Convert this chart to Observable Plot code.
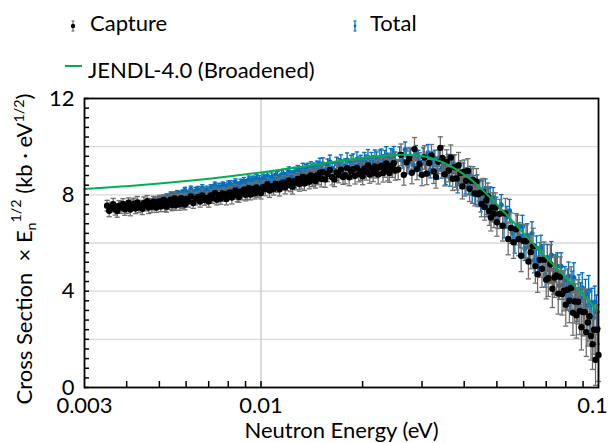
<!DOCTYPE html>
<html><head><meta charset="utf-8">
<script src="https://cdn.jsdelivr.net/npm/d3@7"></script>
<script src="https://cdn.jsdelivr.net/npm/@observablehq/plot@0.6"></script>
<style>
body{margin:0;background:#fff;}
#chart{width:609px;height:443px;overflow:hidden;}
</style></head><body>
<div id="chart"></div>
<script>
// ---- Capture (black points, grey error bars) ----
const captureE = [
0.00350,0.00355,0.00360,0.00365,0.00370,0.00375,0.00380,0.00385,0.00390,0.00395,
0.00400,0.00405,0.00410,0.00415,0.00420,0.00425,0.00430,0.00435,0.00440,0.00445,
0.00450,0.00455,0.00460,0.00465,0.00470,0.00475,0.00480,0.00485,0.00490,0.00495,
0.00500,0.00505,0.00510,0.00515,0.00520,0.00525,0.00530,0.00535,0.00540,0.00545,
0.00550,0.00555,0.00560,0.00565,0.00570,0.00575,0.00580,0.00585,0.00590,0.00595,0.00600,
0.0061,0.0062,0.0063,0.0064,0.0065,0.0066,0.0067,0.0068,0.0069,0.0070,
0.0071,0.0072,0.0073,0.0074,0.0075,0.0076,0.0077,0.0078,0.0079,0.0080,
0.0081,0.0082,0.0083,0.0084,0.0085,0.0086,0.0087,0.0088,0.0089,0.0090,
0.0091,0.0092,0.0093,0.0094,0.0095,0.0096,0.0097,0.0098,0.0099,0.0100,
0.01015,0.0103,0.01045,0.0106,0.01075,0.0109,0.01105,0.0112,0.01135,0.0115,
0.01165,0.0118,0.01195,0.0121,0.01225,0.0124,0.01255,0.0127,0.01285,0.0130,
0.01315,0.0133,0.01345,0.0136,0.01375,0.0139,0.01405,0.0142,0.01435,0.0145,
0.01465,0.0148,0.01495,0.0151,
0.01525,0.0155,0.01575,0.0160,0.01625,0.0165,0.01675,0.0170,0.01725,0.0175,
0.01775,0.0180,0.01825,0.0185,0.01875,0.0190,0.01925,0.0195,0.01975,0.0200,
0.02025,0.0205,0.02075,0.0210,0.02125,0.0215,0.02175,0.0220,0.02225,0.0225,
0.02275,0.0230,0.02325,0.0235,0.02375,0.0240,0.02425,0.0245,0.02475,0.0250,
0.0255,0.0260,0.0265,0.0270,0.0275,0.0280,0.0285,0.0290,0.0295,0.0300,
0.0305,0.0310,0.0315,0.0320,0.0325,0.0330,0.0335,0.0340,0.0345,0.0350,
0.0355,0.0360,0.0365,0.0370,0.0375,0.0380,0.0385,0.0390,0.0395,0.0400,
0.0405,0.0410,0.0415,0.0420,0.0425,0.0430,0.0435,0.0440,0.0445,0.0450,
0.0455,0.0460,0.0465,0.0470,0.0475,0.0480,0.0485,0.0490,0.0495,0.0500,
0.051,0.052,0.053,0.054,0.055,0.056,0.057,0.058,0.059,0.060,
0.061,0.062,0.063,0.064,0.065,0.066,0.067,0.068,0.069,0.070,
0.071,0.072,0.073,0.074,0.075,0.076,0.077,0.078,0.079,0.080,
0.081,0.082,0.083,0.084,0.085,0.086,0.087,0.088,0.089,0.090,
0.091,0.092,0.093,0.094,0.095,0.096,0.097,0.098,0.099,0.100];
const captureY = [
7.55,7.34,7.49,7.61,7.39,7.33,7.55,7.47,7.62,7.40,
7.46,7.67,7.39,7.57,7.62,7.43,7.68,7.49,7.57,7.42,
7.65,7.55,7.74,7.47,7.64,7.51,7.72,7.63,7.47,7.69,
7.73,7.52,7.67,7.79,7.57,7.51,7.73,7.65,7.80,7.58,
7.64,7.85,7.57,7.75,7.80,7.61,7.86,7.67,7.75,7.60,7.83,
7.72,7.93,7.66,7.84,7.91,7.72,7.97,7.79,7.87,7.73,
7.97,7.87,8.07,7.80,7.98,7.85,8.06,7.99,7.83,8.06,
8.10,7.89,8.05,8.18,7.97,7.91,8.13,8.06,8.21,8.00,
8.07,8.28,8.01,8.19,8.25,8.06,8.31,8.14,8.22,8.08,
8.33,8.24,8.44,8.18,8.36,8.24,8.46,8.38,8.23,8.46,
8.51,8.31,8.47,8.60,8.39,8.34,8.57,8.50,8.66,8.45,
8.52,8.74,8.47,8.66,8.72,8.54,8.80,8.62,8.71,8.57,
8.81,8.72,8.92,8.66,
8.94,8.64,8.86,9.03,8.73,8.64,8.93,8.83,9.04,8.74,
8.82,9.11,8.73,8.98,9.06,8.79,9.12,8.87,8.97,8.77,
9.09,8.95,9.22,8.84,9.09,8.90,9.18,9.07,8.84,9.16,
9.21,8.91,9.13,9.30,9.00,8.91,9.20,9.10,9.31,9.01,
9.05,9.66,8.83,9.35,9.51,8.92,9.90,9.07,9.28,8.83,
9.55,8.88,9.32,9.64,8.97,8.75,9.37,9.95,9.53,8.85,
9.37,9.01,9.55,8.67,9.15,8.68,9.23,8.91,8.35,8.96,
8.58,8.99,8.25,8.58,8.62,8.06,8.55,8.02,8.08,7.62,
8.11,7.49,7.76,7.94,7.32,7.06,7.48,7.21,7.47,6.86,
7.21,6.72,7.23,6.17,6.62,6.03,6.57,6.16,5.47,6.08,
6.07,5.23,5.62,5.87,5.04,4.70,5.30,4.93,5.30,4.47,
4.54,5.12,4.10,4.57,4.65,3.90,4.60,3.88,4.02,3.44,
4.06,3.60,4.13,3.10,3.57,3.00,3.56,3.17,2.50,3.13,
3.13,2.30,2.70,2.96,2.14,1.80,2.40,1.15,2.40,1.35];
const captureErr = [
0.22,0.25,0.20,0.24,0.23,0.26,0.21,0.24,0.22,0.25,
0.23,0.20,0.26,0.22,0.24,0.21,0.25,0.23,0.20,0.24,
0.26,0.22,0.23,0.25,0.21,0.24,0.22,0.26,0.20,0.23,
0.25,0.22,0.24,0.21,0.26,0.23,0.20,0.25,0.22,0.24,
0.23,0.26,0.21,0.24,0.22,0.25,0.20,0.23,0.26,0.22,0.24,
0.23,0.25,0.22,0.26,0.24,0.23,0.27,0.22,0.25,0.24,
0.26,0.23,0.25,0.22,0.27,0.24,0.23,0.26,0.25,0.22,
0.24,0.27,0.23,0.25,0.26,0.22,0.24,0.27,0.23,0.25,
0.26,0.24,0.22,0.27,0.25,0.23,0.26,0.24,0.27,0.25,
0.25,0.28,0.26,0.29,0.27,0.25,0.30,0.27,0.28,0.26,
0.29,0.27,0.30,0.28,0.26,0.31,0.28,0.29,0.27,0.30,
0.28,0.31,0.29,0.27,0.32,0.29,0.30,0.28,0.31,0.29,
0.32,0.30,0.28,0.33,
0.30,0.33,0.31,0.34,0.32,0.30,0.35,0.33,0.34,0.31,
0.36,0.33,0.35,0.32,0.37,0.34,0.36,0.33,0.38,0.35,
0.37,0.34,0.39,0.36,0.38,0.35,0.40,0.37,0.39,0.36,
0.41,0.38,0.40,0.37,0.42,0.39,0.41,0.38,0.43,0.40,
0.42,0.45,0.43,0.47,0.44,0.46,0.48,0.44,0.47,0.45,
0.49,0.46,0.48,0.45,0.50,0.47,0.49,0.46,0.51,0.48,
0.50,0.47,0.52,0.49,0.51,0.48,0.53,0.50,0.52,0.49,
0.54,0.51,0.53,0.50,0.55,0.52,0.54,0.51,0.56,0.53,
0.57,0.54,0.58,0.55,0.59,0.56,0.60,0.57,0.61,0.58,
0.60,0.64,0.62,0.66,0.63,0.67,0.65,0.69,0.66,0.70,
0.68,0.72,0.69,0.74,0.71,0.75,0.72,0.77,0.74,0.79,
0.76,0.81,0.78,0.83,0.80,0.85,0.82,0.87,0.84,0.89,
0.86,0.91,0.88,0.93,0.90,0.95,0.92,0.97,0.94,0.99,
0.96,1.01,0.98,1.03,1.00,1.05,1.02,1.06,1.04,1.10];

// ---- Total (blue points, blue error bars) ----
const totalE = [
0.00485,0.00490,0.00495,0.00500,0.00505,0.00510,0.00515,0.00520,0.00525,0.00530,
0.00535,0.00540,0.00545,0.00550,0.00555,0.00560,0.00565,0.00570,0.00575,0.00580,
0.00585,0.00590,0.00595,0.00600,
0.0061,0.0062,0.0063,0.0064,0.0065,0.0066,0.0067,0.0068,0.0069,0.0070,
0.0071,0.0072,0.0073,0.0074,0.0075,0.0076,0.0077,0.0078,0.0079,0.0080,
0.0081,0.0082,0.0083,0.0084,0.0085,0.0086,0.0087,0.0088,0.0089,0.0090,
0.0091,0.0092,0.0093,0.0094,0.0095,0.0096,0.0097,0.0098,0.0099,0.0100,
0.01015,0.0103,0.01045,0.0106,0.01075,0.0109,0.01105,0.0112,0.01135,0.0115,
0.01165,0.0118,0.01195,0.0121,0.01225,0.0124,0.01255,0.0127,0.01285,0.0130,
0.01315,0.0133,0.01345,0.0136,0.01375,0.0139,0.01405,0.0142,0.01435,0.0145,
0.01465,0.0148,0.01495,0.0151,
0.01525,0.0155,0.01575,0.0160,0.01625,0.0165,0.01675,0.0170,0.01725,0.0175,
0.01775,0.0180,0.01825,0.0185,0.01875,0.0190,0.01925,0.0195,0.01975,0.0200,
0.02025,0.0205,0.02075,0.0210,0.02125,0.0215,0.02175,0.0220,0.02225,0.0225,
0.02275,0.0230,0.02325,0.0235,0.02375,0.0240,0.02425,0.0245,0.02475,0.0250,
0.02575,0.02625,0.02675,0.02725,0.02775,0.02825,0.02875,0.02925,0.02975,0.03025,
0.03075,0.03125,0.03175,0.03225,0.03275,0.03325,0.03375,0.03425,0.03475,0.03525,
0.03575,0.03625,0.03675,0.03725,0.03775,0.03825,0.03875,0.03925,0.03975,0.04025,
0.04075,0.04125,0.04175,0.04225,0.04275,0.04325,0.04375,0.04425,0.04475,0.04525,
0.04575,0.04625,0.04675,0.04725,0.04775,0.04825,0.04875,0.04925,0.04975,0.05025,
0.0515,0.0525,0.0535,0.0545,0.0555,0.0565,0.0575,0.0585,0.0595,0.0605,
0.0615,0.0625,0.0635,0.0645,0.0655,0.0665,0.0675,0.0685,0.0695,0.0705,
0.0715,0.0725,0.0735,0.0745,0.0755,0.0765,0.0775,0.0785,0.0795,0.0805,
0.0815,0.0825,0.0835,0.0845,0.0855,0.0865,0.0875,0.0885,0.0895,0.0905,
0.0915,0.0925,0.0935,0.0945,0.0955,0.0965,0.0975,0.0985,0.0995];
const totalY = [
7.78,7.62,7.75,7.86,7.71,7.66,7.85,7.80,7.93,7.77,
7.83,8.00,7.80,7.95,8.00,7.86,8.06,7.93,8.01,7.90,
8.09,8.03,8.19,7.98,
8.06,8.23,8.03,8.17,8.22,8.08,8.28,8.14,8.22,8.11,
8.29,8.23,8.39,8.17,8.33,8.23,8.40,8.35,8.22,8.41,
8.45,8.28,8.41,8.52,8.36,8.31,8.50,8.44,8.57,8.41,
8.46,8.63,8.43,8.57,8.62,8.48,8.68,8.54,8.62,8.51,
8.69,8.63,8.79,8.58,8.73,8.64,8.82,8.76,8.64,8.83,
8.87,8.70,8.84,8.95,8.79,8.75,8.93,8.88,9.01,8.85,
8.91,9.08,8.88,9.02,9.08,8.94,9.14,9.01,9.08,8.98,
9.16,9.10,9.27,9.05,
9.29,9.04,9.23,9.37,9.10,9.03,9.29,9.21,9.38,9.13,
9.20,9.44,9.11,9.33,9.40,9.17,9.47,9.25,9.33,9.16,
9.44,9.31,9.55,9.23,9.43,9.27,9.52,9.42,9.23,9.50,
9.55,9.29,9.48,9.62,9.36,9.29,9.55,9.47,9.63,9.38,
9.69,9.43,9.88,9.21,9.61,9.26,9.73,9.51,9.09,9.60,
9.29,9.74,9.04,9.42,9.51,9.00,9.54,9.06,9.19,8.79,
9.32,8.74,9.05,9.27,8.69,8.47,8.91,8.66,8.94,8.35,
8.72,8.40,8.79,8.06,8.41,8.01,8.43,8.16,7.69,8.16,
7.81,8.23,7.50,7.85,7.91,7.37,7.88,7.37,7.47,7.05,
7.58,6.67,7.08,7.34,6.43,6.06,6.70,6.29,6.68,5.78,
6.32,5.81,6.39,5.28,5.79,5.19,5.81,5.39,4.69,5.39,
4.87,5.50,4.41,4.94,5.04,4.24,5.03,4.26,4.45,3.84,
4.63,3.77,4.24,4.56,3.70,3.38,4.07,3.71,4.14,3.28,
3.86,3.39,4.01,2.93,3.47,2.90,3.55,3.15,2.47];
const totalErr = [
0.10,0.12,0.11,0.10,0.12,0.11,0.10,0.12,0.11,0.13,
0.10,0.12,0.11,0.13,0.12,0.10,0.12,0.11,0.13,0.12,
0.11,0.13,0.12,0.11,
0.12,0.13,0.12,0.14,0.13,0.12,0.14,0.13,0.14,0.12,
0.13,0.15,0.14,0.13,0.15,0.14,0.13,0.15,0.14,0.16,
0.14,0.15,0.16,0.14,0.15,0.16,0.15,0.17,0.15,0.16,
0.17,0.15,0.16,0.17,0.16,0.18,0.16,0.17,0.18,0.17,
0.17,0.18,0.17,0.19,0.18,0.19,0.18,0.20,0.19,0.20,
0.19,0.21,0.20,0.21,0.20,0.22,0.21,0.22,0.21,0.23,
0.22,0.23,0.22,0.24,0.23,0.24,0.23,0.25,0.24,0.25,
0.24,0.26,0.25,0.26,
0.25,0.27,0.26,0.28,0.27,0.28,0.27,0.29,0.28,0.30,
0.29,0.30,0.29,0.31,0.30,0.32,0.31,0.32,0.31,0.33,
0.32,0.34,0.33,0.34,0.33,0.35,0.34,0.36,0.35,0.36,
0.35,0.37,0.36,0.38,0.37,0.38,0.37,0.39,0.38,0.40,
0.30,0.32,0.31,0.33,0.31,0.34,0.32,0.34,0.33,0.35,
0.33,0.35,0.34,0.36,0.34,0.36,0.35,0.37,0.35,0.37,
0.36,0.38,0.36,0.38,0.37,0.39,0.37,0.39,0.38,0.40,
0.38,0.40,0.39,0.41,0.39,0.41,0.40,0.42,0.40,0.42,
0.41,0.43,0.41,0.43,0.42,0.44,0.42,0.44,0.43,0.45,
0.43,0.46,0.44,0.47,0.45,0.48,0.46,0.49,0.47,0.50,
0.48,0.51,0.49,0.52,0.50,0.53,0.51,0.54,0.52,0.55,
0.53,0.56,0.54,0.57,0.55,0.58,0.56,0.59,0.57,0.60,
0.58,0.61,0.59,0.62,0.60,0.63,0.61,0.64,0.62,0.65,
0.63,0.66,0.64,0.67,0.65,0.68,0.66,0.69,0.67];

// ---- JENDL-4.0 (Broadened) ----
const jendlE = [0.0030,0.0035,0.0040,0.0050,0.0060,0.0070,0.0080,0.0100,0.0120,0.0140,0.0160,0.0180,0.0200,0.0230,0.0260,0.0290,0.0320,0.0350,0.0380,0.0420,0.0460,0.0500,0.0550,0.0600,0.0650,0.0700,0.0750,0.0800,0.0850,0.0900,0.0950,0.1000];
const jendlY = [8.24,8.30,8.36,8.47,8.57,8.67,8.76,8.93,9.08,9.22,9.35,9.45,9.54,9.62,9.66,9.64,9.52,9.32,9.05,8.62,8.12,7.60,6.98,6.40,5.87,5.40,4.97,4.57,4.20,3.85,3.50,3.15];

// ---- ticks ----
const xTickLabels = [0.003, 0.01];
const xLastLabel = [0.1];
const xMinorTicks = [0.004,0.005,0.006,0.007,0.008,0.009,0.01,0.02,0.03,0.04,0.05,0.06,0.07,0.08,0.09];
const xGrid = [0.01];
const yTickLabels = [0, 4, 8, 12];
const yGrid = [2, 4, 6, 8, 10];
const yMinorTicks = [0,0.4,0.8,1.2,1.6,2,2.4,2.8,3.2,3.6,4,4.4,4.8,5.2,5.6,6,6.4,6.8,7.2,7.6,8,8.4,8.8,9.2,9.6,10,10.4,10.8,11.2,11.6,12];

const FONT = "Lato, 'Open Sans', sans-serif";
const FS = 22;
const GREY = "#6e6e6e", BLUE = "#0070C0", GREEN = "#00B050";

const zip = (E, Y, R) => E.slice(0, Math.min(E.length, Y.length, R ? R.length : Infinity)).map((e, i) => ({e, y: Y[i], err: R ? R[i] : 0}));
const capture = zip(captureE, captureY, captureErr);
const total = zip(totalE, totalY, totalErr);
const jendl = zip(jendlE, jendlY);

const capSym = {draw(ctx, size) { const w = Math.sqrt(size / Math.PI); ctx.moveTo(-w, 0); ctx.lineTo(w, 0); }};

const chart = Plot.plot({
  width: 609, height: 443,
  marginLeft: 84, marginRight: 11, marginTop: 98, marginBottom: 56,
  style: {fontFamily: FONT, overflow: "visible", background: "#fff"},
  x: {type: "log", domain: [0.003, 0.1]},
  y: {domain: [0, 12]},
  marks: [
    Plot.ruleY(yGrid, {stroke: "#d9d9d9", strokeWidth: 1.3}),
    Plot.ruleX(xGrid, {stroke: "#c8c8c8", strokeWidth: 1.3}),
    // total error bars + points (drawn first, underneath)
    Plot.ruleX(total, {x: "e", y1: d => d.y - d.err, y2: d => d.y + d.err, stroke: BLUE, strokeWidth: 1.3}),
    Plot.dot(total, {x: "e", y: d => d.y + d.err, symbol: capSym, r: 2.2, stroke: BLUE, strokeWidth: 1.3}),
    Plot.dot(total, {x: "e", y: d => d.y - d.err, symbol: capSym, r: 2.2, stroke: BLUE, strokeWidth: 1.3}),
    Plot.dot(total, {x: "e", y: "y", r: 2.6, fill: BLUE}),
    // capture error bars + points
    Plot.ruleX(capture, {x: "e", y1: d => d.y - d.err, y2: d => d.y + d.err, stroke: GREY, strokeWidth: 1.3}),
    Plot.dot(capture, {x: "e", y: d => d.y + d.err, symbol: capSym, r: 2.6, stroke: GREY, strokeWidth: 1.3}),
    Plot.dot(capture, {x: "e", y: d => d.y - d.err, symbol: capSym, r: 2.6, stroke: GREY, strokeWidth: 1.3}),
    Plot.dot(capture, {x: "e", y: "y", r: 3.2, fill: "#000"}),
    Plot.line(jendl, {x: "e", y: "y", stroke: GREEN, strokeWidth: 2, curve: "monotone-x"}),
    // axes
    Plot.axisY({ticks: yMinorTicks, tickSize: -5, tickFormat: () => "", label: null, strokeWidth: 1.5}),
    Plot.axisY({ticks: yTickLabels, tickSize: 0, tickPadding: 10, label: null, fontSize: FS, fill: "#000"}),
    Plot.axisX({ticks: xMinorTicks, tickSize: -6, tickFormat: () => "", label: null, strokeWidth: 1.5}),
    Plot.axisX({ticks: xTickLabels, tickSize: 0, tickPadding: 10, tickFormat: d => String(d), label: null, fontSize: FS, fill: "#000"}),
    Plot.axisX({ticks: xLastLabel, tickSize: 0, tickPadding: 10, tickFormat: d => String(d), label: null, fontSize: FS, fill: "#000", dx: -6}),
    Plot.frame({stroke: "#000", strokeWidth: 1.8}),
    Plot.text(["Neutron Energy (eV)"], {frameAnchor: "bottom", dy: 50, lineAnchor: "bottom", fontSize: FS, fill: "#000"})
  ]
});
document.getElementById("chart").appendChild(chart);

// y-axis title with subscript / superscripts
const svg = d3.select(chart);
const yt = svg.append("text")
  .attr("transform", "translate(32,249) rotate(-90)")
  .attr("text-anchor", "middle")
  .attr("font-family", FONT).attr("font-size", FS).attr("fill", "#000");
yt.append("tspan").text("Cross Section  \u00d7 E");
yt.append("tspan").attr("font-size", FS * 0.65).attr("dy", "0.3em").text("n");
yt.append("tspan").attr("font-size", FS * 0.65).attr("dy", "-1.05em").text("1/2");
yt.append("tspan").attr("dy", "0.5em").text(" (kb \u00b7 eV");
yt.append("tspan").attr("font-size", FS * 0.65).attr("dy", "-0.55em").text("1/2");
yt.append("tspan").attr("dy", "0.35em").text(")");

// legend
const lg = svg.append("g").attr("font-family", FONT).attr("font-size", FS).attr("fill", "#000").attr("text-anchor", "start");
// Capture
lg.append("line").attr("x1", 73).attr("x2", 73).attr("y1", 21).attr("y2", 31).attr("stroke", GREY).attr("stroke-width", 1.2);
lg.append("line").attr("x1", 71.5).attr("x2", 74.5).attr("y1", 21).attr("y2", 21).attr("stroke", GREY).attr("stroke-width", 1.2);
lg.append("line").attr("x1", 71.5).attr("x2", 74.5).attr("y1", 31).attr("y2", 31).attr("stroke", GREY).attr("stroke-width", 1.2);
lg.append("circle").attr("cx", 73).attr("cy", 26).attr("r", 2.2).attr("fill", "#000");
lg.append("text").attr("x", 90).attr("y", 31).attr("text-anchor", "start").text("Capture");
// Total
lg.append("line").attr("x1", 355).attr("x2", 355).attr("y1", 21).attr("y2", 31).attr("stroke", BLUE).attr("stroke-width", 1.2);
lg.append("line").attr("x1", 353.5).attr("x2", 356.5).attr("y1", 21).attr("y2", 21).attr("stroke", BLUE).attr("stroke-width", 1.2);
lg.append("line").attr("x1", 353.5).attr("x2", 356.5).attr("y1", 31).attr("y2", 31).attr("stroke", BLUE).attr("stroke-width", 1.2);
lg.append("circle").attr("cx", 355).attr("cy", 26).attr("r", 1.4).attr("fill", BLUE);
lg.append("text").attr("x", 370).attr("y", 31).attr("text-anchor", "start").text("Total");
// JENDL
lg.append("line").attr("x1", 65).attr("x2", 82).attr("y1", 66).attr("y2", 66).attr("stroke", GREEN).attr("stroke-width", 2);
lg.append("text").attr("x", 88).attr("y", 78).attr("text-anchor", "start").text("JENDL-4.0 (Broadened)");
</script>
</body></html>
